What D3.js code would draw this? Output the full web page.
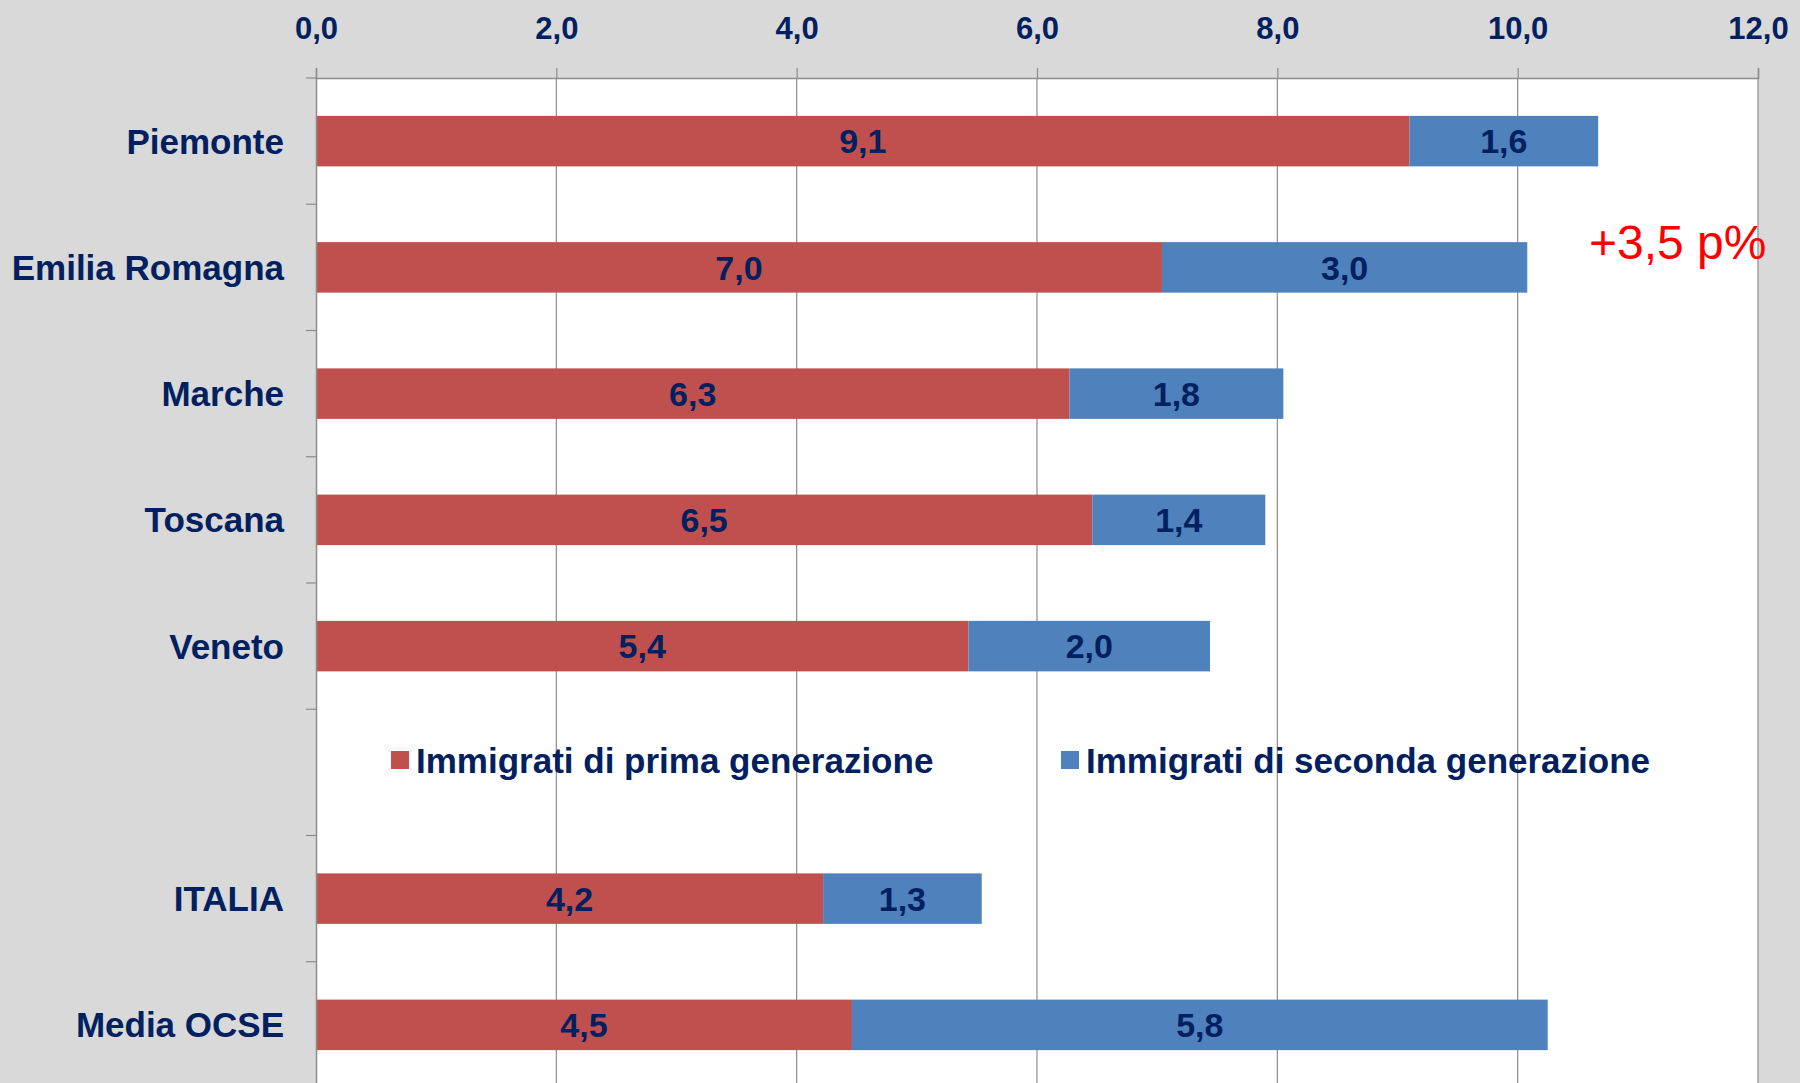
<!DOCTYPE html>
<html>
<head>
<meta charset="utf-8">
<script src="https://cdn.jsdelivr.net/npm/d3@7"></script>
<style>
  html, body { margin: 0; padding: 0; background: #d9d9d9; }
  svg { display: block; font-family: "Liberation Sans", Arial, sans-serif; }
</style>
</head>
<body>
<div id="chart"></div>
<script>
// Chart data (bar lengths, labels show 1 decimal)
const categories = ["Piemonte", "Emilia Romagna", "Marche", "Toscana", "Veneto", "", "ITALIA", "Media OCSE"];
const prima = [9.1, 7.04, 6.27, 6.46, 5.43, null, 4.22, 4.46];
const seconda = [1.57, 3.04, 1.78, 1.44, 2.01, null, 1.32, 5.79];
const seriesNames = ["Immigrati di prima generazione", "Immigrati di seconda generazione"];
const xTicks = [0, 2, 4, 6, 8, 10, 12];
const note = "+3,5 p%";

// Plot parameters
const w = 1800, h = 1083;
const plotLeft = 316, plotRight = 1758, plotTop = 78, plotBottom = 1088;
const navy = "#002060";
const gridColor = "#8c8c8c";
const colors = ["#c0504d", "#4f81bd"];
const keys = ["prima", "seconda"];

const it = d3.formatLocale({decimal: ",", thousands: ".", grouping: [3], currency: ["€", ""]});
const fmt = it.format(".1f");

const rows = categories.map((c, i) => ({cat: c, prima: prima[i], seconda: seconda[i]}));

const x = d3.scaleLinear().domain([0, 12]).range([plotLeft, plotRight]);
const y = d3.scaleBand().domain(categories).range([plotTop, plotBottom]).padding(0);
const barH = y.bandwidth() * 0.4;

const svg = d3.select("#chart").append("svg")
  .attr("width", w).attr("height", h);

// background + plot area
svg.append("rect").attr("width", w).attr("height", h).attr("fill", "#d9d9d9");
svg.append("rect")
  .attr("x", plotLeft).attr("y", plotTop)
  .attr("width", plotRight - plotLeft).attr("height", plotBottom - plotTop)
  .attr("fill", "#ffffff");

// vertical gridlines
svg.append("g").selectAll("line")
  .data(xTicks.slice(1))
  .join("line")
  .attr("x1", d => x(d)).attr("x2", d => x(d))
  .attr("y1", plotTop).attr("y2", plotBottom)
  .attr("stroke", gridColor).attr("stroke-width", 1.2);

// stacked bars
const stack = d3.stack().keys(keys).value((d, k) => d[k] || 0);
const layers = stack(rows);

const layerG = svg.append("g").selectAll("g")
  .data(layers)
  .join("g")
  .attr("fill", (d, i) => colors[i]);

layerG.selectAll("rect")
  .data(d => d.filter(s => s.data.prima !== null))
  .join("rect")
  .attr("x", d => x(d[0]))
  .attr("y", d => y(d.data.cat) + (y.bandwidth() - barH) / 2)
  .attr("width", d => x(d[1]) - x(d[0]))
  .attr("height", barH);

// data labels
layerG.each(function(layer) {
  d3.select(this).selectAll("text")
    .data(layer.filter(s => s.data.prima !== null))
    .join("text")
    .attr("x", d => (x(d[0]) + x(d[1])) / 2)
    .attr("y", d => y(d.data.cat) + y.bandwidth() / 2)
    .attr("dy", "0.36em")
    .attr("text-anchor", "middle")
    .attr("fill", navy)
    .attr("font-size", 34)
    .attr("font-weight", "bold")
    .text(d => fmt(d.data[layer.key]));
});

// top axis
const xAxis = d3.axisTop(x).tickValues(xTicks).tickSize(10).tickPadding(0).tickFormat(fmt);
const gx = svg.append("g").attr("transform", "translate(0," + plotTop + ")").call(xAxis);
gx.select(".domain").attr("stroke", gridColor).attr("stroke-width", 1.5);
gx.selectAll(".tick line").attr("stroke", gridColor).attr("stroke-width", 1.2);
gx.selectAll(".tick text")
  .attr("y", 39 - plotTop).attr("dy", null)
  .attr("fill", navy)
  .attr("font-size", 31)
  .attr("font-weight", "bold")
  .attr("font-family", "'Liberation Sans', Arial, sans-serif");

// left axis: labels at band centres, ticks at band edges
const yAxis = d3.axisLeft(y).tickSize(0).tickPadding(32);
const gy = svg.append("g").attr("transform", "translate(" + plotLeft + ",0)").call(yAxis);
gy.select(".domain").attr("stroke", gridColor).attr("stroke-width", 1.5);
gy.selectAll(".tick text")
  .attr("dy", "0.36em")
  .attr("fill", navy)
  .attr("font-size", 35)
  .attr("font-weight", "bold")
  .attr("font-family", "'Liberation Sans', Arial, sans-serif");

svg.append("g").selectAll("line")
  .data(categories)
  .join("line")
  .attr("x1", plotLeft - 10).attr("x2", plotLeft)
  .attr("y1", d => y(d)).attr("y2", d => y(d))
  .attr("stroke", gridColor).attr("stroke-width", 1.2);

// legend
const legendX = [391, 1061];
const legendY = 760;
const lg = svg.append("g").selectAll("g")
  .data(seriesNames)
  .join("g")
  .attr("transform", (d, i) => "translate(" + legendX[i] + "," + legendY + ")");
lg.append("rect")
  .attr("x", 0).attr("y", -9).attr("width", 18).attr("height", 18)
  .attr("fill", (d, i) => colors[i]);
lg.append("text")
  .attr("x", 25).attr("dy", "0.36em")
  .attr("fill", navy)
  .attr("font-size", 35)
  .attr("font-weight", "bold")
  .text(d => d);

// annotation
svg.append("text")
  .attr("x", 1589).attr("y", 259)
  .attr("fill", "#ff0000")
  .attr("font-size", 48)
  .text(note);
</script>
</body>
</html>
